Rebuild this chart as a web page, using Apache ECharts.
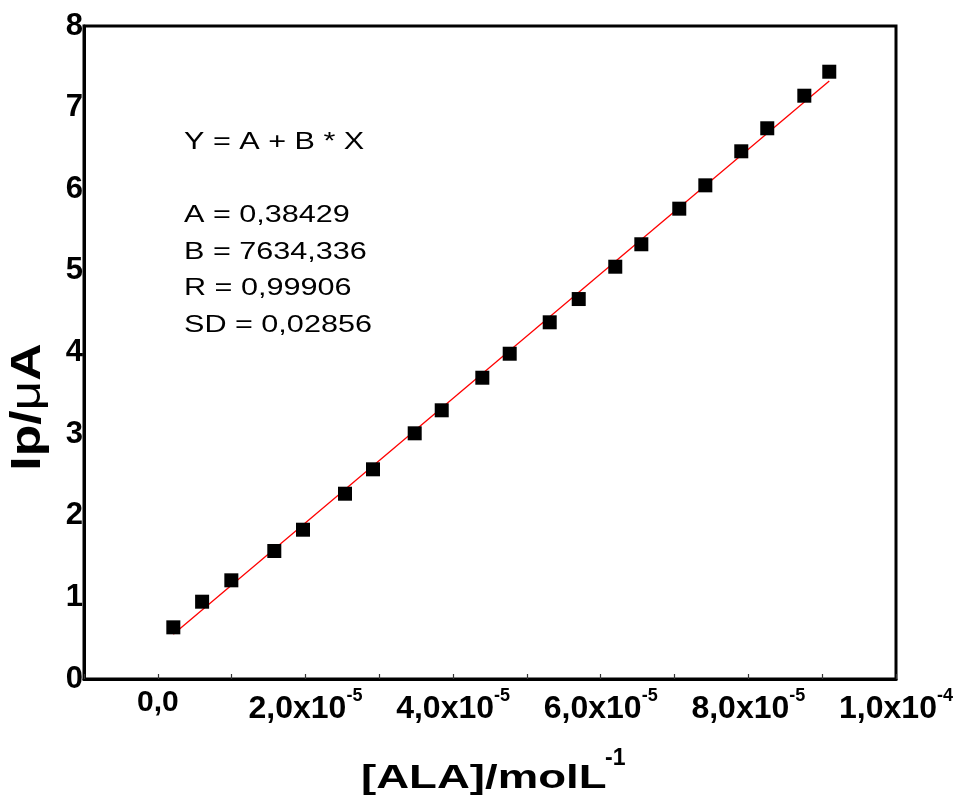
<!DOCTYPE html>
<html>
<head>
<meta charset="utf-8">
<script src="https://cdn.jsdelivr.net/npm/echarts@6/dist/echarts.min.js"></script>
<style>
html,body{margin:0;padding:0;background:#fff;}
#chart{width:966px;height:806px;}
</style>
</head>
<body>
<div id="chart"></div>
<script>
// Data
const concX = [0.21e-5, 0.60e-5, 0.996e-5, 1.578e-5, 1.967e-5, 2.536e-5, 2.915e-5, 3.48e-5, 3.846e-5, 4.396e-5, 4.767e-5,
               5.309e-5, 5.702e-5, 6.197e-5, 6.55e-5, 7.064e-5, 7.417e-5, 7.904e-5, 8.256e-5, 8.758e-5, 9.096e-5];
const ipY   = [0.633, 0.947, 1.209, 1.568, 1.829, 2.270, 2.569, 3.010, 3.292, 3.691, 3.985,
               4.370, 4.655, 5.051, 5.326, 5.762, 6.048, 6.465, 6.747, 7.146, 7.440];
// fitted line end points
const fitX = [0.21e-5, 9.096e-5];
const fitY = [0.547, 7.326];
// x tick labels (every 2e-5), base text and exponent
const xLabelBase = ['0,0', '2,0x10', '4,0x10', '6,0x10', '8,0x10', '1,0x10'];
const xLabelExp  = ['', '-5', '-5', '-5', '-5', '-4'];
const annotationLines = ['Y = A + B * X', '', 'A = 0,38429', 'B = 7634,336', 'R = 0,99906', 'SD = 0,02856'];
const xTitle = '[ALA]/molL';
const xTitleSup = '-1';

const FF = '"Liberation Sans", Arial, Helvetica, sans-serif';
const chart = echarts.init(document.getElementById('chart'), null, {renderer: 'canvas'});

const scatterData = concX.map((x, i) => [x, ipY[i]]);
const lineData = fitX.map((x, i) => [x, fitY[i]]);

chart.setOption({
  animation: false,
  backgroundColor: '#fff',
  grid: {left: 84, right: 70, top: 26, bottom: 127, show: true, borderColor: '#000', borderWidth: 3, backgroundColor: 'transparent'},
  xAxis: {
    type: 'value', min: -1e-5, max: 1e-4, interval: 1e-5,
    axisLine: {show: true, onZero: false, lineStyle: {color: '#000', width: 3}},
    axisTick: {show: true, inside: true, length: 5, lineStyle: {color: '#333', width: 1.2}},
    splitLine: {show: false},
    axisLabel: {
      margin: 8,
      showMinLabel: true, showMaxLabel: true,
      formatter: function (v) {
        const n = Math.round(v / 1e-5);
        if (n < 0 || n % 2 !== 0) return '';
        const k = n / 2;
        if (k === 0) return '{z|' + xLabelBase[0] + '}';
        return '{b|' + xLabelBase[k] + '}{s|' + xLabelExp[k] + '}';
      },
      rich: {
        b: {fontFamily: FF, fontWeight: 'bold', fontSize: 32, lineHeight: 44, color: '#000'},
        s: {fontFamily: FF, fontWeight: 'bold', fontSize: 18, lineHeight: 10, verticalAlign: 'top', color: '#000'},
        z: {fontFamily: FF, fontWeight: 'bold', fontSize: 30, lineHeight: 32, color: '#000'}
      }
    }
  },
  yAxis: {
    type: 'value', min: 0, max: 8, interval: 1,
    axisLine: {show: true, onZero: false, lineStyle: {color: '#000', width: 3}},
    axisTick: {show: false},
    splitLine: {show: false},
    axisLabel: {margin: 1, fontFamily: FF, fontWeight: 'bold', fontSize: 31, color: '#000', padding: [0, 0, 12, 0]}
  },
  series: [
    {
      type: 'line', data: lineData, showSymbol: false, symbol: 'none',
      lineStyle: {color: '#ff0000', width: 1.3}, z: 2
    },
    {
      type: 'scatter', data: scatterData, symbol: 'rect', symbolSize: 14,
      itemStyle: {color: '#000', opacity: 1}, z: 3
    }
  ],
  graphic: [
    {
      type: 'text', x: 184, y: 124, scaleX: 1.33,
      style: {text: annotationLines.join('\n'), fontFamily: FF, fontSize: 23, lineHeight: 36.7, fill: '#000', align: 'left', verticalAlign: 'top'}
    },
    {
      type: 'text', x: 361, y: 779, scaleX: 1.34,
      style: {text: xTitle, fontFamily: FF, fontWeight: 'bold', fontSize: 34, fill: '#000', align: 'left', verticalAlign: 'middle'}
    },
    {
      type: 'text', x: 605, y: 759,
      style: {text: xTitleSup, fontFamily: FF, fontWeight: 'bold', fontSize: 23, fill: '#000', align: 'left', verticalAlign: 'middle'}
    },
    {
      type: 'text', x: 28, y: 407, rotation: Math.PI / 2, scaleX: 1.23,
      style: {
        text: '{b|Ip/}{m|\u03bc}{b|A}', align: 'center', verticalAlign: 'middle',
        rich: {
          b: {fontFamily: FF, fontWeight: 'bold', fontSize: 42, fill: '#000'},
          m: {fontFamily: FF, fontWeight: 'normal', fontSize: 42, fill: '#000'}
        }
      }
    }
  ]
});
</script>
</body>
</html>
